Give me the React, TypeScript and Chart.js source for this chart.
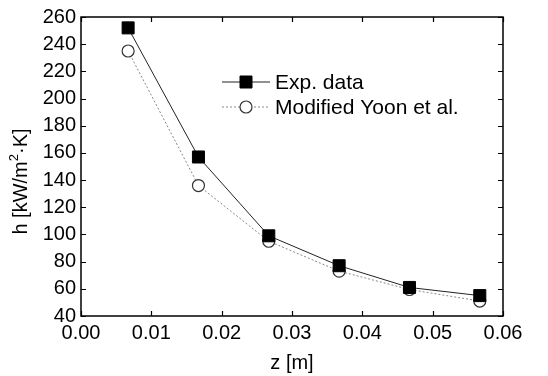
import { useEffect, useRef } from "react";
import { Chart, registerables } from "chart.js";

Chart.register(...registerables);

const zValues = [0.0067, 0.0167, 0.0267, 0.0367, 0.0467, 0.0567];
const expData = [252, 157, 99, 77, 61, 55];
const modelData = [235, 136, 95, 73, 59.5, 51];
const seriesLabels = ["Exp. data", "Modified Yoon et al."];
const xTitle = "z [m]";
const yTitleParts = ["h [kW/m", "2", "\u00B7K]"];
const xRange = [0, 0.06];
const yRange = [40, 260];

const FONT = "'Liberation Sans', Arial, sans-serif";
const FS = 20;

const framePlugin = {
  id: "frameTicks",
  afterDraw(chart: any) {
    const { ctx, chartArea } = chart;
    const { left, right, top, bottom } = chartArea;
    const x = chart.scales.x;
    const y = chart.scales.y;
    ctx.save();
    ctx.strokeStyle = "#000";
    ctx.lineWidth = 1.5;
    ctx.strokeRect(left, top, right - left, bottom - top);
    ctx.lineWidth = 1.2;
    const L = 5;
    ctx.beginPath();
    x.ticks.forEach((t: any) => {
      const px = Math.round(x.getPixelForValue(t.value)) + 0.5;
      ctx.moveTo(px, bottom);
      ctx.lineTo(px, bottom - L);
      ctx.moveTo(px, top);
      ctx.lineTo(px, top + L);
    });
    y.ticks.forEach((t: any) => {
      const py = Math.round(y.getPixelForValue(t.value)) + 0.5;
      ctx.moveTo(left, py);
      ctx.lineTo(left + L, py);
      ctx.moveTo(right, py);
      ctx.lineTo(right - L, py);
    });
    ctx.stroke();

    // y axis title with superscript
    ctx.fillStyle = "#000";
    ctx.textBaseline = "middle";
    ctx.textAlign = "left";
    const big = `${FS}px ${FONT}`;
    const small = `${Math.round(FS * 0.65)}px ${FONT}`;
    ctx.font = big;
    const w0 = ctx.measureText(yTitleParts[0]).width;
    const w2 = ctx.measureText(yTitleParts[2]).width;
    ctx.font = small;
    const w1 = ctx.measureText(yTitleParts[1]).width;
    const total = w0 + w1 + w2;
    ctx.translate(21, (top + bottom) / 2 + 15);
    ctx.rotate(-Math.PI / 2);
    let cx = -total / 2;
    ctx.font = big;
    ctx.fillText(yTitleParts[0], cx, 0);
    cx += w0;
    ctx.font = small;
    ctx.fillText(yTitleParts[1], cx, -7);
    cx += w1;
    ctx.font = big;
    ctx.fillText(yTitleParts[2], cx, 0);
    ctx.restore();

    // legend
    ctx.save();
    const lx1 = left + 141;
    const lx2 = left + 189;
    const mx = (lx1 + lx2) / 2;
    const rows = [top + 65, top + 90];
    chart.data.datasets.forEach((ds: any, i: number) => {
      const ly = rows[i];
      ctx.beginPath();
      ctx.strokeStyle = ds.borderColor;
      ctx.lineWidth = ds.borderWidth;
      ctx.setLineDash(ds.borderDash || []);
      ctx.moveTo(lx1, ly);
      ctx.lineTo(lx2, ly);
      ctx.stroke();
      ctx.setLineDash([]);
      ctx.beginPath();
      ctx.fillStyle = ds.pointBackgroundColor;
      ctx.strokeStyle = ds.pointBorderColor;
      ctx.lineWidth = ds.pointBorderWidth;
      if (ds.pointStyle === "rect") {
        ctx.rect(mx - 6, ly - 6, 12, 12);
      } else {
        ctx.arc(mx, ly, 6, 0, Math.PI * 2);
      }
      ctx.fill();
      ctx.stroke();
      ctx.fillStyle = "#000";
      ctx.font = `${FS + 1}px ${FONT}`;
      ctx.textAlign = "left";
      ctx.textBaseline = "middle";
      ctx.fillText(ds.label, lx2 + 5, ly + 1);
    });
    ctx.restore();
  },
};

export default function App() {
  const ref = useRef<HTMLCanvasElement>(null);
  useEffect(() => {
    if (!ref.current) return;
    const chart = new Chart(ref.current, {
      type: "line",
      data: {
        datasets: [
          {
            label: seriesLabels[0],
            data: zValues.map((z, i) => ({ x: z, y: expData[i] })),
            borderColor: "#222",
            borderWidth: 1,
            pointStyle: "rect",
            pointRadius: 8.5,
            pointBackgroundColor: "#000",
            pointBorderColor: "#000",
            pointBorderWidth: 1,
          },
          {
            label: seriesLabels[1],
            data: zValues.map((z, i) => ({ x: z, y: modelData[i] })),
            borderColor: "#888",
            borderWidth: 1,
            borderDash: [2, 2],
            pointStyle: "circle",
            pointRadius: 6,
            pointBackgroundColor: "#fff",
            pointBorderColor: "#333",
            pointBorderWidth: 1.2,
          },
        ] as any,
      },
      options: {
        animation: false,
        responsive: true,
        maintainAspectRatio: false,
        layout: { padding: { left: 0, right: 45, top: 15, bottom: 0 } },
        plugins: { legend: { display: false }, tooltip: { enabled: false } },
        scales: {
          x: {
            type: "linear",
            min: xRange[0],
            max: xRange[1],
            afterFit: (s: any) => {
              s.height = 60;
            },
            ticks: {
              stepSize: 0.01,
              color: "#000",
              font: { family: FONT, size: FS },
              padding: 5,
              callback: (v: any) => Number(v).toFixed(2),
            },
            grid: { display: false, drawTicks: false },
            border: { display: false },
            title: {
              display: true,
              text: xTitle,
              color: "#000",
              font: { family: FONT, size: FS },
              padding: { top: 0, bottom: 1 },
            },
          },
          y: {
            type: "linear",
            min: yRange[0],
            max: yRange[1],
            afterFit: (s: any) => {
              s.width = 81;
            },
            ticks: {
              stepSize: 20,
              color: "#000",
              font: { family: FONT, size: FS },
              padding: 5,
            },
            grid: { display: false, drawTicks: false },
            border: { display: false },
          },
        },
      } as any,
      plugins: [framePlugin],
    });
    return () => chart.destroy();
  }, []);
  return (
    <div style={{ position: "absolute", left: 0, top: 0, width: 548, height: 376, background: "#fff" }}>
      <canvas ref={ref} />
    </div>
  );
}
